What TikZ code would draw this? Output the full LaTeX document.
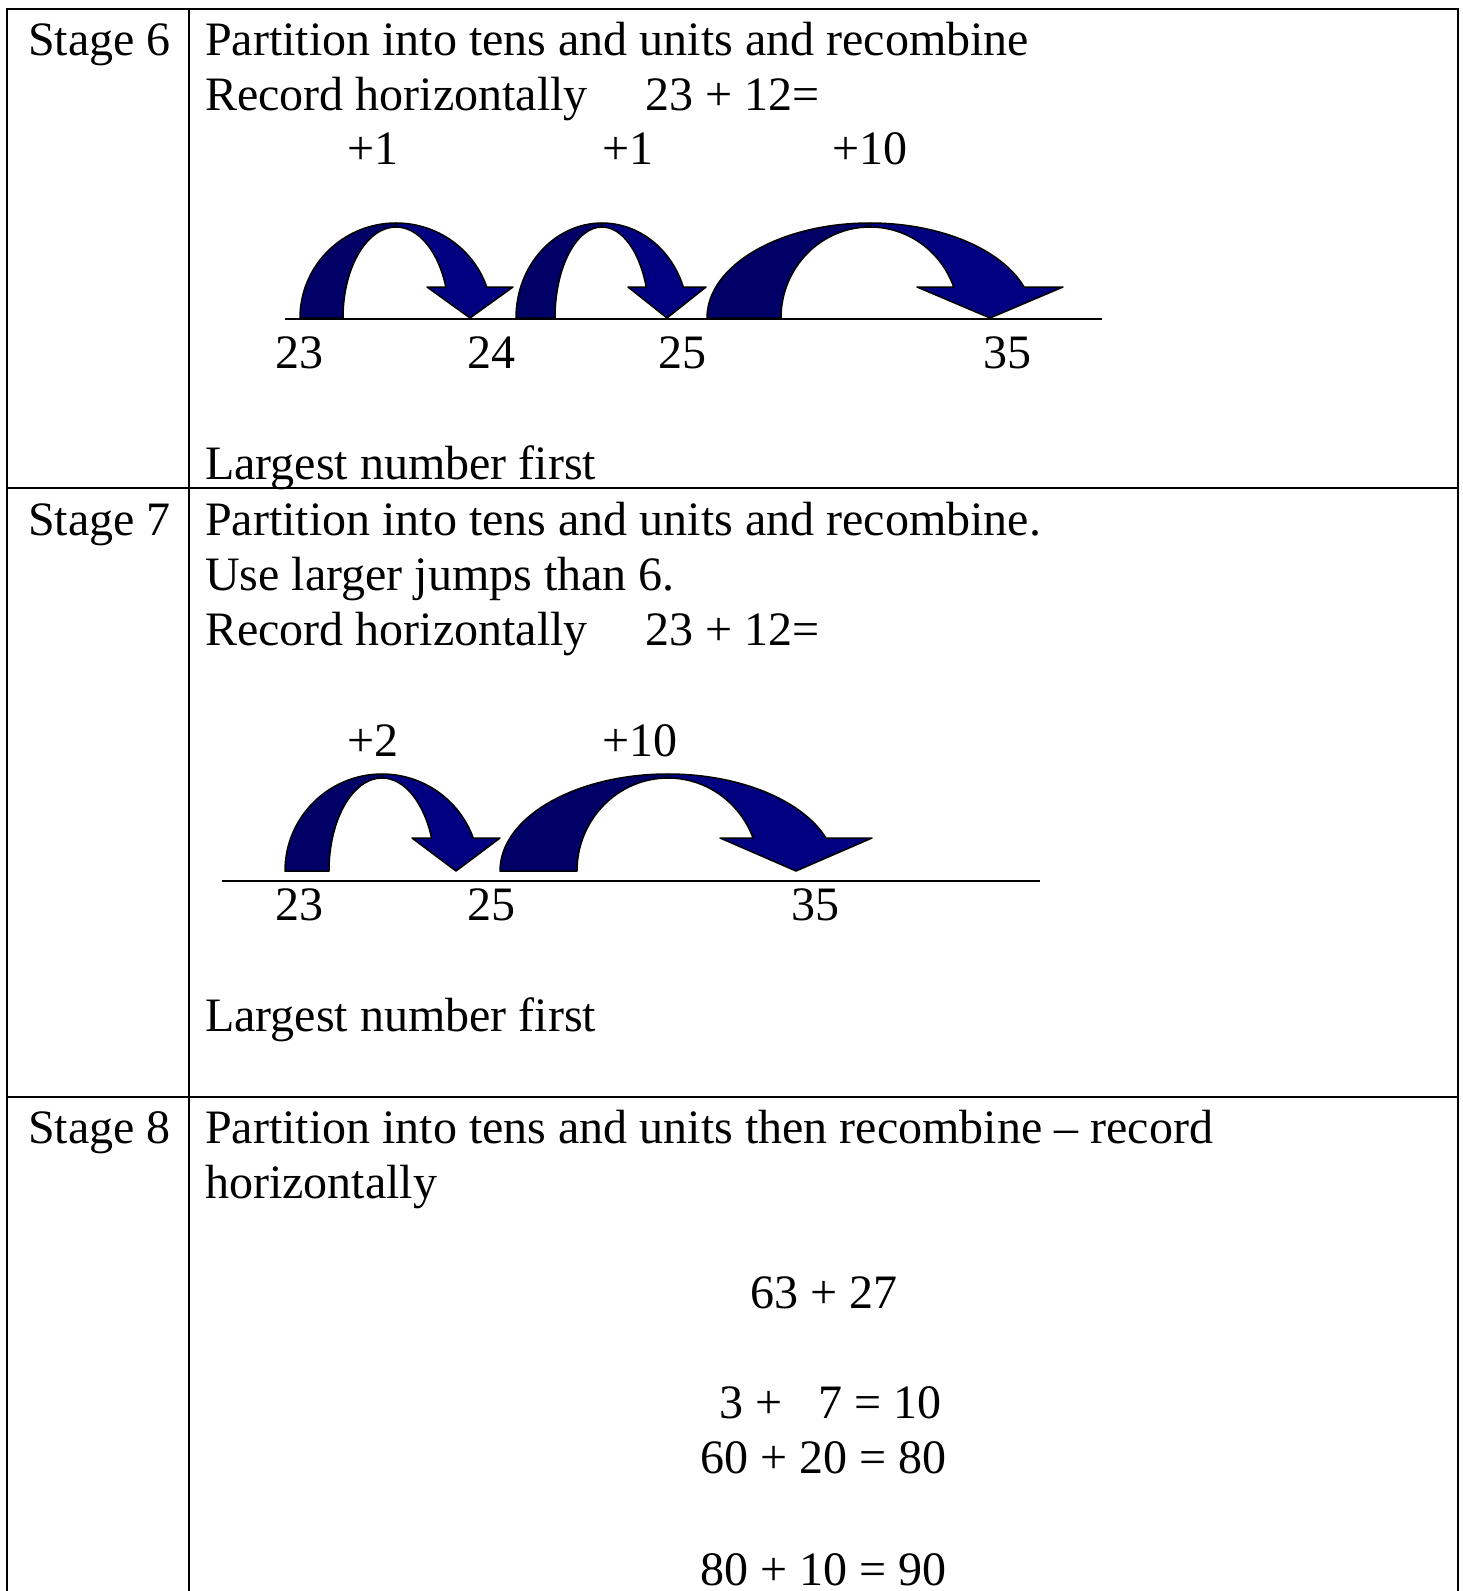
\documentclass[tikz,border=0pt]{standalone}
\usepackage{fontspec}
\setmainfont{Liberation Serif}
\usepackage{tikz}
\newcommand{\cellfont}{\fontsize{48}{55}\selectfont}
\definecolor{jumpdark}{RGB}{0,0,102}
\definecolor{jumplight}{RGB}{0,0,128}
\tikzset{
cell text/.style={anchor=base west, inner sep=0pt, font=\cellfont},
tick label/.style={anchor=base, inner sep=0pt, font=\cellfont},
%
table rule/.style={line width=2.2pt},
number line/.style={line width=2pt},
%
jump back/.style={fill=jumpdark, draw=black, line width=1.5pt, line join=round},
jump front/.style={fill=jumplight, draw=black, line width=1.5pt, line join=round},
}
% centre x, foot y, outer radius, inner radius, height, head y, tip x, head half width
\newcommand{\jumparrow}[8]{%
  \pgfmathsetmacro{\jhi}{#5-4}
  \pgfmathsetmacro{\jao}{asin((#2-#6)/#5)}
  \pgfmathsetmacro{\jai}{asin((#2-#6)/\jhi)}
  \pgfmathsetmacro{\jxi}{#1+#4*cos(\jai)}
  \filldraw[jump back] (#1-#3,#2) arc[start angle=180, end angle=90, x radius=#3pt, y radius=#5pt]
    -- (#1,#2-\jhi) arc[start angle=90, end angle=180, x radius=#4pt, y radius=\jhi pt] -- cycle;
  \filldraw[jump front] (#1,#2-#5) arc[start angle=90, end angle=\jao, x radius=#3pt, y radius=#5pt]
    -- (#7+#8,#6) -- (#7,#2) -- (#7-#8,#6) -- (\jxi,#6)
    arc[start angle=\jai, end angle=90, x radius=#4pt, y radius=\jhi pt] -- cycle;
}

\begin{document}
\begin{tikzpicture}[x=1pt,y=-1pt]
        \useasboundingbox (0,0) rectangle (1463,1591);
        % table
        \draw[table rule] (7,1591) -- (7,9) -- (1458,9) -- (1458,1591);
        \draw[table rule] (189,9) -- (189,1591);
        \draw[table rule] (7,488) -- (1458,488);
        \draw[table rule] (7,1097) -- (1458,1097);

        % stage 6
        \node[cell text] (s6) at (28,55) {Stage 6};
        \node[cell text] (s6a) at (205,55) {Partition into tens and units and recombine};
        \node[cell text] (s6b) at (205,110) {Record horizontally\hspace{58pt}23 + 12=};
        \foreach \x/\j/\t in {347/a/+1,602/b/+1,832/c/+10}
            \node[cell text] (p6\j) at (\x,164) {\t};
        \foreach \cx/\ro/\ri/\tip/\hw in {396/96/53/470/43,602/86/47/667/39,870/163/89/990/73}
            \jumparrow{\cx}{318}{\ro}{\ri}{95}{287}{\tip}{\hw};
        \coordinate (l6a) at (285,319);
        \coordinate (l6b) at (1102,319);
        \draw[number line] (l6a) -- (l6b);
        \foreach \x/\n in {299/23,491/24,682/25,1007/35}
            \node[tick label] (t6\n) at (\x,368) {\n};
        \node[cell text] (s6c) at (205,479) {Largest number first};

        % stage 7
        \node[cell text] (s7) at (28,535) {Stage 7};
        \node[cell text] (s7a) at (205,535) {Partition into tens and units and recombine.};
        \node[cell text] (s7b) at (205,590) {Use larger jumps than 6.};
        \node[cell text] (s7c) at (205,645) {Record horizontally\hspace{58pt}23 + 12=};
        \foreach \x/\j/\t in {347/a/+2,602/b/+10}
            \node[cell text] (p7\j) at (\x,756) {\t};
        \foreach \cx/\ro/\ri/\tip/\hw in {382/97/53/456/44,668/168/91/796/76}
            \jumparrow{\cx}{871}{\ro}{\ri}{97}{838}{\tip}{\hw};
        \coordinate (l7a) at (222,881);
        \coordinate (l7b) at (1040,881);
        \draw[number line] (l7a) -- (l7b);
        \foreach \x/\n in {299/23,491/25,815/35}
            \node[tick label] (t7\n) at (\x,920) {\n};
        \node[cell text] (s7d) at (205,1031) {Largest number first};

        % stage 8
        \node[cell text] (s8) at (28,1143) {Stage 8};
        \node[cell text] (s8a) at (205,1143) {Partition into tens and units then recombine – record};
        \node[cell text] (s8b) at (205,1198) {horizontally};
        \node[cell text] (s8c) at (750,1308) {63 + 27};
        \node[cell text] (s8d) at (719,1418) {3 +\hspace{36pt}7 = 10};
        \node[cell text] (s8e) at (700,1473) {60 + 20 = 80};
        \node[cell text] (s8f) at (700,1585) {80 + 10 = 90};
\end{tikzpicture}
\end{document}
